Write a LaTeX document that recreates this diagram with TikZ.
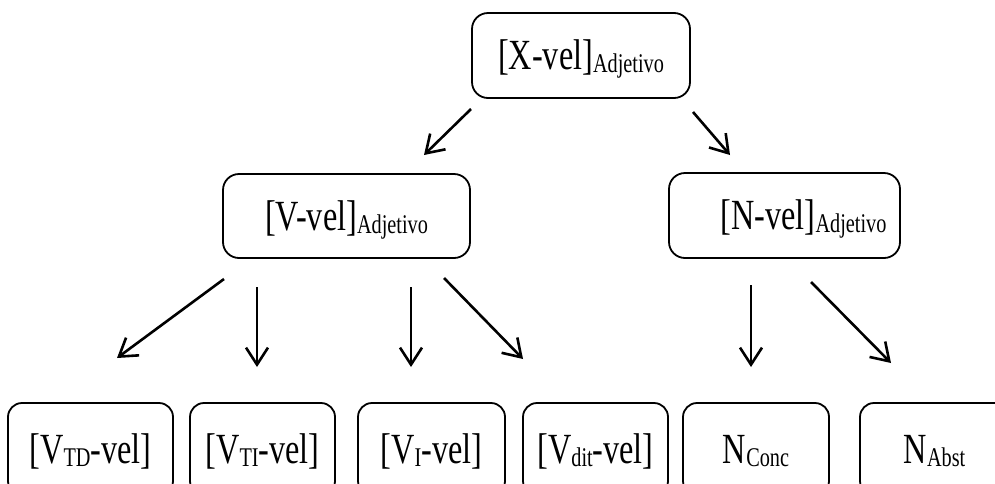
\documentclass[tikz,border=0pt]{standalone}
\usepackage{fontspec}
\setmainfont{Liberation Serif}[FakeStretch=0.75]
\usetikzlibrary{arrows.meta}

\newcommand{\lsub}[1]{\raisebox{-3pt}{\fontsize{27pt}{27pt}\selectfont #1}}

\begin{document}
\begin{tikzpicture}[x=1pt,y=-1pt,
    arr/.style={-{Straight Barb[length=17pt,width=22pt]},line width=2.6pt}]

  \tikzstyle{catbox}=[draw,line width=1.8pt,rounded corners=16pt,inner sep=0pt,
                      font=\fontsize{43pt}{43pt}\selectfont,text height=28pt,text depth=0pt]
  \tikzstyle{leafbox}=[catbox,rounded corners=14pt,minimum height=92pt]

  \useasboundingbox (0,0) rectangle (995,483);
  \clip (0,0) rectangle (995,483);

  % adjective levels
  \node[catbox,minimum width=218pt,minimum height=85pt] (XV) at (581,55.5)  {[X-vel]\lsub{Adjetivo}};
  \node[catbox,minimum width=247pt,minimum height=84pt] (VV) at (346.5,216) {[V-vel]\lsub{Adjetivo}};
  \node[catbox,minimum width=231pt,minimum height=85pt] (NV) at (784.5,215.5) {\hspace*{38pt}[N-vel]\lsub{Adjetivo}};

  % leaves
  \node[leafbox,minimum width=165pt] (VTD)   at (90.5,449)  {[V\lsub{TD}-vel]};
  \node[leafbox,minimum width=145pt] (VTI)   at (262.5,449) {[V\lsub{TI}-vel]};
  \node[leafbox,minimum width=147pt] (VI)    at (431.5,449) {[V\lsub{I}-vel]};
  \node[leafbox,minimum width=145pt] (VDIT)  at (595.5,449) {[V\lsub{dit}-vel]};
  \node[leafbox,minimum width=146pt] (NCONC) at (756,449)   {N\lsub{Conc}};
  \node[leafbox,minimum width=149pt] (NABST) at (934.5,449) {N\lsub{Abst}};

  % arrow ends
  \coordinate (xv-l)  at (471,109);  \coordinate (vv-in)  at (424,155);
  \coordinate (xv-r)  at (693,112);  \coordinate (nv-in)  at (730,155);
  \coordinate (vv-1)  at (224,279);  \coordinate (vtd-in) at (117,358);
  \coordinate (vv-2)  at (257,287);  \coordinate (vti-in) at (257,367);
  \coordinate (vv-3)  at (411,287);  \coordinate (vi-in)  at (411,367);
  \coordinate (vv-4)  at (444,278);  \coordinate (vdit-in) at (523,359);
  \coordinate (nv-1)  at (751,285);  \coordinate (nconc-in) at (751,367);
  \coordinate (nv-2)  at (811,282);  \coordinate (nabst-in) at (891,363);

  \draw[arr] (xv-l) -- (vv-in);
  \draw[arr] (xv-r) -- (nv-in);
  \draw[arr] (vv-1) -- (vtd-in);
  \draw[arr] (vv-2) -- (vti-in);
  \draw[arr] (vv-3) -- (vi-in);
  \draw[arr] (vv-4) -- (vdit-in);
  \draw[arr] (nv-1) -- (nconc-in);
  \draw[arr] (nv-2) -- (nabst-in);
\end{tikzpicture}
\end{document}
